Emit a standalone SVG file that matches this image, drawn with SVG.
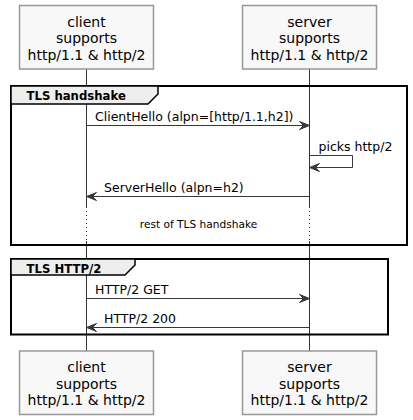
<svg xmlns="http://www.w3.org/2000/svg" width="413" height="420" viewBox="0 0 413 420">
<style>
.pbox{fill:#F8F8F8;stroke:#999999;stroke-width:1.5}
.ptxt{font-family:"DejaVu Sans",sans-serif;font-size:14px;fill:#000;text-anchor:middle}
.life{stroke:#333333;stroke-width:1;fill:none}
.dot{stroke:#333333;stroke-width:1;stroke-dasharray:1,3;fill:none}
.frame{fill:none;stroke:#000;stroke-width:2}
.tab{fill:#EEEEEE;stroke:#000;stroke-width:1.5}
.ttxt{font-family:"DejaVu Sans",sans-serif;font-size:11.7px;font-weight:bold;fill:#000}
.msg{stroke:#383838;stroke-width:1;fill:none}
.head{fill:#383838;stroke:#383838;stroke-width:1}
.mtxt{font-family:"DejaVu Sans",sans-serif;font-size:12.5px;fill:#000}
.dtxt{font-family:"DejaVu Sans",sans-serif;font-size:10.6px;fill:#000;text-anchor:middle}
</style>
<g id="lifelines">
<path class="life" d="M86.5,69 V207 M86.5,241 V351 M309.5,69 V207 M309.5,241 V351"/>
<path class="dot" d="M86.5,207 V241 M309.5,207 V241"/>
</g>
<g id="group-tls-handshake">
<rect class="frame" x="11" y="86" width="396" height="159"/>
<path class="tab" d="M11,86 L158,86 L158,94 L148,104 L11,104 Z"/>
<text class="ttxt" x="26.5" y="99.5">TLS handshake</text>
</g>
<g id="group-tls-http2">
<rect class="frame" x="11" y="259" width="377" height="75.5"/>
<path class="tab" d="M11,259 L135,259 L135,265 L125,275 L11,275 Z"/>
<text class="ttxt" x="26.5" y="272.5">TLS HTTP/2</text>
</g>
<g id="client-top">
<rect class="pbox" x="19.5" y="5.5" width="134" height="63.5"/>
<text class="ptxt" x="86.5" y="26.5">client</text>
<text class="ptxt" x="86.5" y="43">supports</text>
<text class="ptxt" x="86.5" y="59.5">http/1.1 &amp; http/2</text>
</g>
<g id="server-top">
<rect class="pbox" x="242.5" y="5.5" width="134" height="63.5"/>
<text class="ptxt" x="309.5" y="26.5">server</text>
<text class="ptxt" x="309.5" y="43">supports</text>
<text class="ptxt" x="309.5" y="59.5">http/1.1 &amp; http/2</text>
</g>
<g id="client-bottom">
<rect class="pbox" x="19.5" y="351" width="134" height="63.5"/>
<text class="ptxt" x="86.5" y="372">client</text>
<text class="ptxt" x="86.5" y="388.5">supports</text>
<text class="ptxt" x="86.5" y="405">http/1.1 &amp; http/2</text>
</g>
<g id="server-bottom">
<rect class="pbox" x="242.5" y="351" width="134" height="63.5"/>
<text class="ptxt" x="309.5" y="372">server</text>
<text class="ptxt" x="309.5" y="388.5">supports</text>
<text class="ptxt" x="309.5" y="405">http/1.1 &amp; http/2</text>
</g>
<g id="connectors">
<line class="msg" x1="86.5" y1="125.5" x2="307" y2="125.5"/>
<polygon class="head" points="299.5,121.5 309.5,125.5 299.5,129.5 303.5,125.5"/>
<text class="mtxt" x="95" y="120.5">ClientHello (alpn=[http/1.1,h2])</text>
<polyline class="msg" points="309.5,155.5 352.5,155.5 352.5,167.5 312,167.5"/>
<polygon class="head" points="319.5,163.5 309.5,167.5 319.5,171.5 315.5,167.5"/>
<text class="mtxt" x="318.5" y="150.5">picks http/2</text>
<line class="msg" x1="309.5" y1="196.5" x2="89" y2="196.5"/>
<polygon class="head" points="96.5,192.5 86.5,196.5 96.5,200.5 92.5,196.5"/>
<text class="mtxt" x="104" y="191.5">ServerHello (alpn=h2)</text>
<text class="dtxt" x="198.5" y="228">rest of TLS handshake</text>
<line class="msg" x1="86.5" y1="298.5" x2="307" y2="298.5"/>
<polygon class="head" points="299.5,294.5 309.5,298.5 299.5,302.5 303.5,298.5"/>
<text class="mtxt" x="95" y="293.5">HTTP/2 GET</text>
<line class="msg" x1="309.5" y1="327.5" x2="89" y2="327.5"/>
<polygon class="head" points="96.5,323.5 86.5,327.5 96.5,331.5 92.5,327.5"/>
<text class="mtxt" x="104" y="322.5">HTTP/2 200</text>
</g>
</svg>
